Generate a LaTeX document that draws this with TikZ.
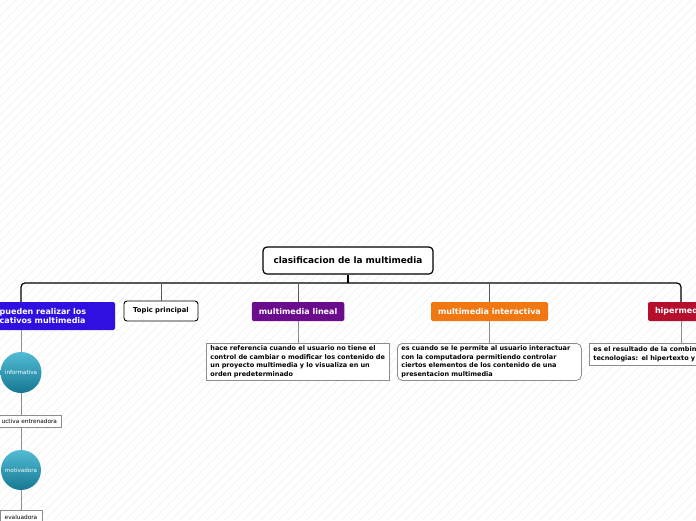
\documentclass[tikz,border=0pt]{standalone}
\usepackage{fontspec}
\setmainfont{DejaVu Sans}
\definecolor{cblue}{RGB}{46,16,224}
\definecolor{cpurple}{RGB}{106,12,140}
\definecolor{corange}{RGB}{240,120,18}
\definecolor{ccrimson}{RGB}{182,14,45}
\definecolor{tealtop}{RGB}{82,188,212}
\definecolor{tealbot}{RGB}{22,120,146}
\definecolor{descline}{RGB}{140,140,140}
\tikzset{
  central/.style={draw=black, line width=1.2pt, fill=white, rounded corners=4pt,
    minimum width=170pt, minimum height=27pt, inner sep=0pt,
    font=\fontsize{8.9}{10}\selectfont\bfseries},
  branchbox/.style={rounded corners=2pt, inner xsep=7pt, inner ysep=0pt,
    minimum height=19pt, text=white, font=\fontsize{8}{9}\selectfont\bfseries},
  topicbox/.style={draw=black, line width=0.9pt, fill=white, rounded corners=3pt,
    minimum width=74pt, minimum height=20pt, inner sep=0pt,
    font=\fontsize{6.8}{8}\selectfont\bfseries},
  descbox/.style={draw=descline, line width=0.8pt, fill=white, inner xsep=4pt, inner ysep=2pt,
    align=left, font=\fontsize{6.5}{8.5}\selectfont\bfseries},
  bubble/.style={circle, inner sep=0pt, top color=tealtop, bottom color=tealbot,
    text=white, font=\fontsize{5.6}{7}\selectfont},
  smallbox/.style={draw=descline, line width=0.8pt, fill=white, inner sep=0pt,
    minimum height=12pt, font=\fontsize{5.8}{7}\selectfont},
  mainline/.style={draw=black, line width=1.2pt},
  subline/.style={draw=black!65, line width=1pt},
  descconn/.style={draw=descline, line width=0.9pt}
}
\begin{document}
\begin{tikzpicture}[x=1pt,y=-1pt]
\useasboundingbox (0,0) rectangle (696,520);
\path[clip] (0,0) rectangle (696,520);
\fill[white] (0,0) rectangle (696,520);
\foreach \i in {-522,-513,...,696} \draw[black!6, line width=0.6pt] (\i,520) -- (\i+520,0);

% central topic
\node[central] (root) at (348,260.5) {clasificacion de la multimedia};
\coordinate (hub) at (348,283);

% main branches
\node[branchbox, fill=cblue, minimum width=188pt, minimum height=28pt] (edu) at (21,316) {};
\node[anchor=west, align=left, inner sep=0pt, text=white,
  font=\fontsize{8}{9}\selectfont\bfseries] (edutxt) at (-0.5,316) {pueden realizar los\\cativos multimedia};
\node[topicbox] (topic) at (161,311) {Topic principal};
\node[branchbox, fill=cpurple, minimum width=92pt] (lin) at (298,311.5) {multimedia lineal};
\node[branchbox, fill=corange, minimum width=117pt] (inter) at (489.5,311.5) {multimedia interactiva};
\node[branchbox, fill=ccrimson, text width=52pt, align=left] (hiper) at (681,311.5) {hipermed};

% connectors from the root
\draw[mainline] (root.south) -- (hub);
\draw[mainline, rounded corners=4pt] (edu.north) |- (hub);
\draw[mainline, rounded corners=4pt] (hiper.north) |- (hub);
\draw[subline] (topic.north) -- (topic.north |- hub);
\draw[subline] (lin.north) -- (lin.north |- hub);
\draw[subline] (inter.north) -- (inter.north |- hub);

% descriptions
\node[descbox, text width=175pt, minimum height=37pt, anchor=north west] (lindesc) at (206,343)
  {hace referencia cuando el usuario no tiene el\\control de cambiar o modificar los contenido de\\un proyecto multimedia y lo visualiza en un\\orden predeterminado};
\node[descbox, text width=176pt, minimum height=37pt, rounded corners=5pt, anchor=north west] (interdesc) at (397,343)
  {es cuando se le permite al usuario interactuar\\con la computadora permitiendo controlar\\ciertos elementos de los contenido de una\\presentacion multimedia};
\node[descbox, text width=190pt, minimum height=22pt, anchor=north west] (hiperdesc) at (589,343)
  {es el resultado de la combin\\tecnologias: el hipertexto y};

\draw[descconn] (lin.south) -- (lin.south |- lindesc.north);
\draw[descconn] (inter.south) -- (inter.south |- interdesc.north);
\draw[descconn] (hiper.south) -- (hiper.south |- hiperdesc.north);

% left column
\node[bubble, minimum size=41pt] (info) at (21,372.5) {informativa};
\node[smallbox, minimum width=80pt, text width=72pt, align=right] (instr) at (21,421) {uctiva entrenadora};
\node[bubble, minimum size=40pt] (motiv) at (21,470) {motivadora};
\node[smallbox, minimum width=42pt, minimum height=14pt] (eval) at (21,517) {evaluadora};

\draw[descconn] (edu.south) -- (info.north);
\draw[descconn] (info.south) -- (instr.north);
\draw[descconn] (instr.south) -- (motiv.north);
\draw[descconn] (motiv.south) -- (eval.north);
\end{tikzpicture}
\end{document}
